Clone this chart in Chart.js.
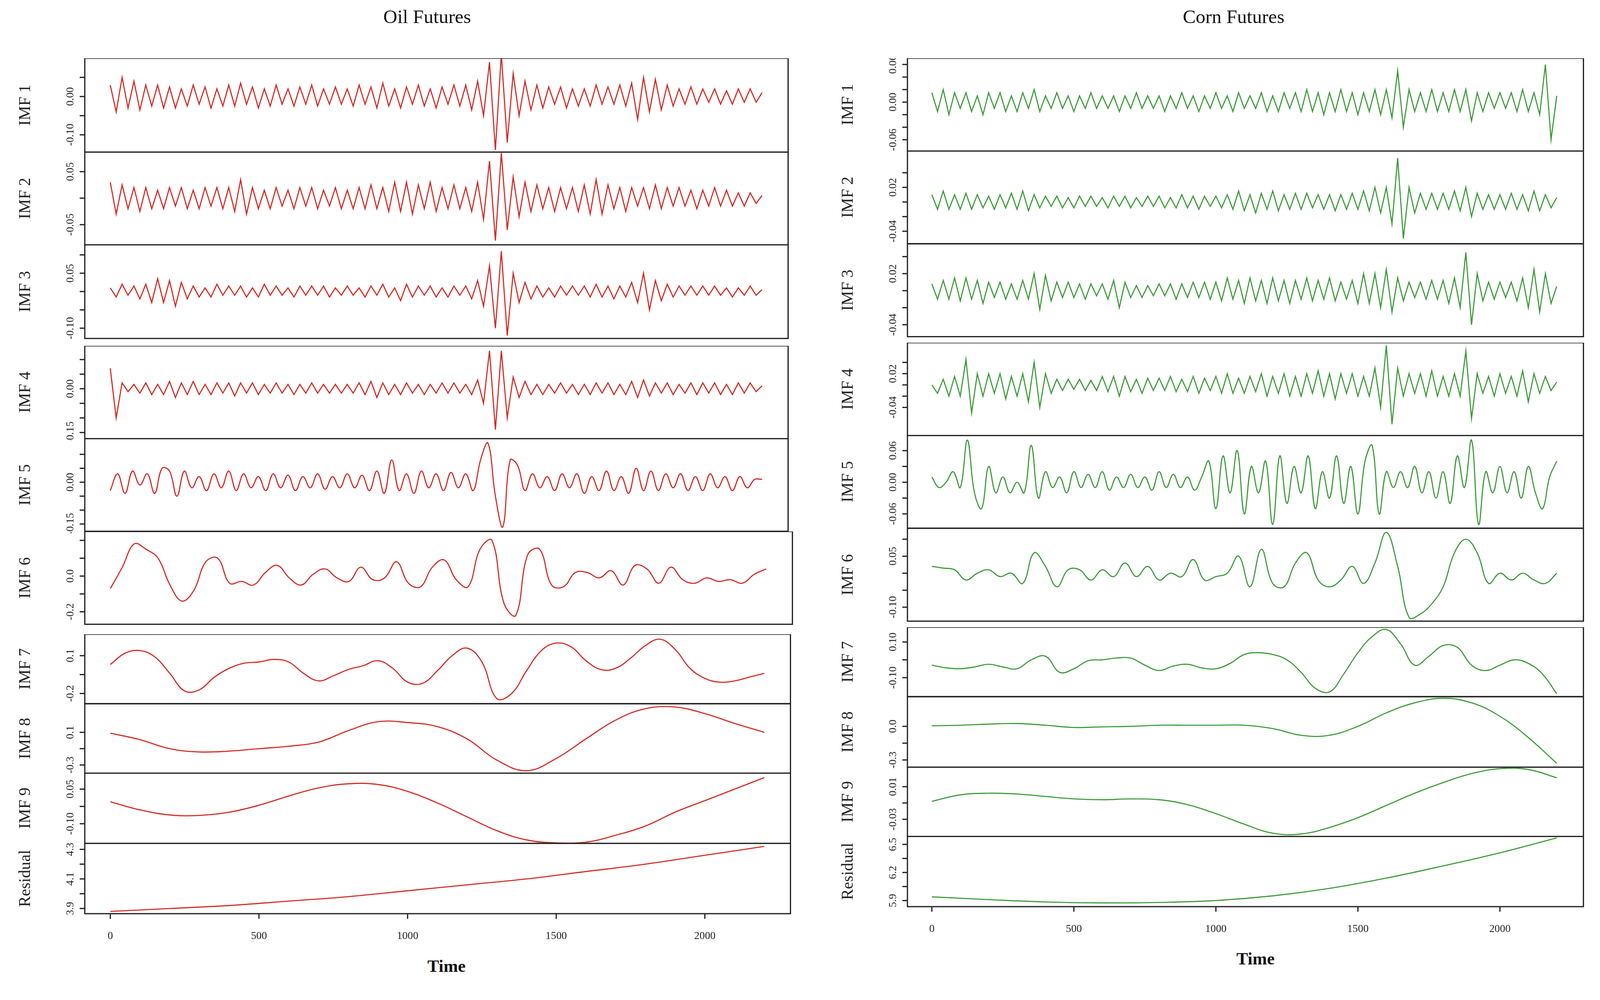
<!DOCTYPE html>
<html>
<head>
<meta charset="utf-8">
<script src="https://cdn.jsdelivr.net/npm/chart.js@4/dist/chart.umd.min.js"></script>
<style>
  body { margin: 0; background: #fff; }
  #page { position: relative; width: 4135px; height: 2559px; background: #fff; overflow: hidden; }
  #page canvas { position: absolute; }
  .txt { position: absolute; font-family: "Liberation Serif", serif; color: #111; white-space: nowrap; transform: translate(-50%, -50%); }
</style>
</head>
<body>
<div id="page"></div>
<script>
// ---- data ----
const oilImf1 = [0.03,-0.04,0.05,-0.03,0.04,-0.035,0.03,-0.025,0.03,-0.03,
  0.025,-0.03,0.02,-0.025,0.03,-0.02,0.025,-0.03,0.02,-0.025,
  0.03,-0.025,0.035,-0.02,0.025,-0.03,0.02,-0.025,0.03,-0.02,
  0.02,-0.025,0.025,-0.02,0.03,-0.025,0.02,-0.02,0.025,-0.02,
  0.02,-0.025,0.03,-0.02,0.025,-0.03,0.035,-0.025,0.02,-0.03,
  0.025,-0.02,0.03,-0.025,0.02,-0.03,0.025,-0.02,0.03,-0.025,
  0.03,-0.035,0.04,-0.05,0.09,-0.14,0.11,-0.12,0.06,-0.05,
  0.04,-0.035,0.03,-0.03,0.025,-0.02,0.025,-0.03,0.02,-0.025,
  0.02,-0.025,0.03,-0.02,0.025,-0.02,0.03,-0.025,0.035,-0.06,
  0.05,-0.04,0.045,-0.035,0.03,-0.025,0.02,-0.02,0.025,-0.02,
  0.02,-0.015,0.02,-0.02,0.015,-0.02,0.02,-0.015,0.02,-0.015,0.01];
const oilImf2 = [0.03,-0.03,0.025,-0.02,0.02,-0.025,0.02,-0.02,0.015,-0.02,
  0.02,-0.015,0.02,-0.02,0.015,-0.02,0.02,-0.015,0.02,-0.02,
  0.02,-0.025,0.035,-0.03,0.02,-0.02,0.015,-0.02,0.02,-0.015,
  0.015,-0.02,0.02,-0.015,0.02,-0.02,0.015,-0.015,0.02,-0.02,
  0.015,-0.02,0.02,-0.02,0.025,-0.02,0.02,-0.025,0.03,-0.025,
  0.03,-0.03,0.025,-0.02,0.03,-0.025,0.02,-0.02,0.025,-0.02,
  0.02,-0.025,0.03,-0.04,0.07,-0.08,0.085,-0.06,0.04,-0.035,
  0.03,-0.025,0.025,-0.02,0.02,-0.025,0.02,-0.02,0.02,-0.025,
  0.025,-0.03,0.035,-0.03,0.025,-0.02,0.02,-0.025,0.02,-0.015,
  0.02,-0.02,0.025,-0.02,0.02,-0.015,0.02,-0.015,0.015,-0.02,
  0.015,-0.015,0.02,-0.015,0.015,-0.015,0.01,-0.015,0.01,-0.01,0.005];
const oilImf3 = [0.01,-0.015,0.02,-0.01,0.015,-0.02,0.02,-0.03,0.035,-0.03,
  0.03,-0.04,0.025,-0.02,0.015,-0.015,0.01,-0.015,0.02,-0.01,
  0.015,-0.01,0.015,-0.015,0.01,-0.015,0.02,-0.01,0.015,-0.01,
  0.01,-0.015,0.015,-0.01,0.015,-0.01,0.015,-0.015,0.01,-0.01,
  0.015,-0.01,0.01,-0.015,0.015,-0.01,0.02,-0.015,0.01,-0.025,
  0.02,-0.015,0.015,-0.01,0.015,-0.015,0.01,-0.015,0.015,-0.01,
  0.015,-0.02,0.03,-0.04,0.07,-0.1,0.11,-0.12,0.05,-0.03,
  0.025,-0.02,0.015,-0.015,0.01,-0.015,0.015,-0.01,0.015,-0.01,
  0.015,-0.015,0.02,-0.015,0.015,-0.02,0.015,-0.015,0.025,-0.03,
  0.05,-0.05,0.03,-0.025,0.02,-0.015,0.015,-0.01,0.015,-0.01,
  0.015,-0.01,0.015,-0.01,0.01,-0.015,0.01,-0.01,0.015,-0.01,0.005];
const oilImf4 = [0.07,-0.1,0.02,-0.01,0.015,-0.015,0.02,-0.02,0.015,-0.02,
  0.025,-0.03,0.02,-0.02,0.025,-0.02,0.015,-0.02,0.02,-0.015,
  0.02,-0.025,0.02,-0.015,0.02,-0.02,0.015,-0.015,0.02,-0.015,
  0.015,-0.02,0.015,-0.015,0.02,-0.015,0.015,-0.015,0.015,-0.015,
  0.015,-0.015,0.02,-0.02,0.025,-0.03,0.02,-0.02,0.015,-0.02,
  0.02,-0.015,0.015,-0.02,0.015,-0.015,0.02,-0.015,0.02,-0.015,
  0.015,-0.02,0.03,-0.05,0.13,-0.14,0.13,-0.1,0.04,-0.03,
  0.025,-0.02,0.015,-0.02,0.015,-0.015,0.02,-0.015,0.015,-0.02,
  0.015,-0.02,0.02,-0.015,0.02,-0.02,0.015,-0.02,0.025,-0.03,
  0.03,-0.025,0.02,-0.015,0.02,-0.02,0.015,-0.015,0.02,-0.02,
  0.02,-0.015,0.02,-0.02,0.015,-0.02,0.02,-0.015,0.02,-0.01,0.01];
const oilImf5 = [-0.03,0.03,-0.04,0.04,-0.01,0.03,-0.04,0.05,0.04,-0.05,
  0.04,-0.02,0.02,-0.03,0.03,-0.02,0.04,-0.03,0.03,-0.02,
  0.02,-0.03,0.03,-0.02,0.025,-0.03,0.02,-0.02,0.03,-0.025,
  0.02,-0.02,0.03,-0.02,0.025,-0.03,0.04,-0.04,0.08,-0.03,
  0.03,-0.04,0.04,-0.02,0.03,-0.03,0.035,-0.02,0.03,-0.03,
  0.08,0.14,-0.05,-0.16,0.08,0.06,-0.03,0.03,-0.02,0.02,
  -0.03,0.03,-0.02,0.03,-0.04,0.02,-0.03,0.04,-0.03,0.02,
  -0.04,0.05,-0.03,0.04,-0.03,0.03,-0.02,0.03,-0.03,0.02,
  -0.03,0.03,-0.02,0.02,-0.03,0.02,-0.02,0.01,0.01];
const oilImf6 = [-0.07,0.05,0.18,0.15,0.1,-0.05,-0.14,-0.08,0.08,0.1,
  -0.04,-0.03,-0.05,0.02,0.06,-0.01,-0.05,0.01,0.04,-0.01,
  -0.03,0.05,-0.02,-0.01,0.08,-0.04,-0.06,0.05,0.09,-0.02,
  -0.06,0.15,0.2,-0.15,-0.22,0.12,0.15,-0.05,-0.06,0.02,
  0.02,-0.01,0.03,-0.05,0.06,0.04,-0.04,0.05,-0.02,-0.04,
  -0.01,-0.03,-0.02,-0.04,0.01,0.04];
const oilImf7 = [0.03,0.12,0.14,0.09,-0.04,-0.18,-0.17,-0.07,0.0,0.04,
  0.05,0.07,0.05,-0.04,-0.1,-0.06,-0.01,0.02,0.06,0.0,
  -0.11,-0.12,-0.02,0.1,0.16,0.05,-0.24,-0.2,-0.02,0.14,
  0.2,0.17,0.06,-0.01,0.0,0.08,0.18,0.23,0.15,0.0,
  -0.08,-0.11,-0.1,-0.07,-0.04];
const oilImf8 = [0.09,0.01,-0.1,-0.14,-0.13,-0.1,-0.07,-0.02,0.12,0.23,0.22,0.17,
  0.02,-0.24,-0.37,-0.22,0.02,0.25,0.39,0.41,0.33,0.21,0.1];
const oilImf9 = [-0.005,-0.04,-0.062,-0.064,-0.05,-0.02,0.02,0.055,0.073,0.07,0.04,-0.01,
  -0.07,-0.13,-0.17,-0.183,-0.18,-0.15,-0.11,-0.05,0.0,0.05,0.1];
const oilResidual = [3.88,3.90,3.92,3.95,3.98,4.02,4.06,4.10,4.15,4.20,4.26,4.32];

const cornImf1 = [0.015,-0.015,0.02,-0.02,0.015,-0.01,0.015,-0.015,0.01,-0.02,
  0.015,-0.01,0.015,-0.015,0.01,-0.015,0.015,-0.01,0.02,-0.015,
  0.01,-0.01,0.015,-0.01,0.01,-0.015,0.01,-0.01,0.015,-0.01,
  0.01,-0.01,0.01,-0.015,0.01,-0.01,0.015,-0.01,0.01,-0.01,
  0.01,-0.015,0.01,-0.01,0.015,-0.01,0.01,-0.015,0.01,-0.01,
  0.015,-0.01,0.01,-0.015,0.015,-0.01,0.01,-0.01,0.015,-0.015,
  0.01,-0.015,0.015,-0.01,0.015,-0.015,0.02,-0.015,0.015,-0.02,
  0.015,-0.015,0.02,-0.015,0.015,-0.02,0.015,-0.015,0.02,-0.02,
  0.02,-0.025,0.05,-0.04,0.02,-0.015,0.015,-0.015,0.02,-0.015,
  0.015,-0.015,0.02,-0.015,0.02,-0.03,0.015,-0.015,0.015,-0.01,
  0.015,-0.01,0.015,-0.015,0.02,-0.015,0.015,-0.02,0.06,-0.06,0.01];
const cornImf2 = [0.01,-0.01,0.015,-0.01,0.01,-0.01,0.012,-0.01,0.01,-0.008,
  0.008,-0.01,0.01,-0.008,0.012,-0.01,0.015,-0.012,0.01,-0.008,
  0.008,-0.006,0.008,-0.008,0.006,-0.008,0.008,-0.006,0.008,-0.006,
  0.006,-0.008,0.008,-0.006,0.008,-0.008,0.006,-0.006,0.008,-0.006,
  0.008,-0.008,0.006,-0.008,0.01,-0.008,0.008,-0.01,0.008,-0.006,
  0.008,-0.008,0.01,-0.01,0.015,-0.012,0.01,-0.015,0.012,-0.01,
  0.015,-0.012,0.01,-0.01,0.012,-0.01,0.012,-0.008,0.01,-0.01,
  0.01,-0.012,0.01,-0.01,0.012,-0.01,0.015,-0.012,0.02,-0.015,
  0.02,-0.03,0.06,-0.05,0.02,-0.015,0.012,-0.01,0.012,-0.01,
  0.012,-0.01,0.015,-0.012,0.02,-0.02,0.012,-0.01,0.01,-0.01,
  0.01,-0.01,0.012,-0.01,0.01,-0.012,0.015,-0.012,0.01,-0.008,0.006];
const cornImf3 = [0.008,-0.01,0.012,-0.01,0.015,-0.012,0.015,-0.01,0.012,-0.015,
  0.01,-0.008,0.01,-0.01,0.008,-0.01,0.012,-0.01,0.02,-0.022,
  0.018,-0.012,0.01,-0.008,0.01,-0.008,0.008,-0.01,0.008,-0.006,
  0.008,-0.01,0.012,-0.02,0.01,-0.008,0.006,-0.008,0.006,-0.006,
  0.008,-0.006,0.008,-0.01,0.008,-0.008,0.01,-0.008,0.01,-0.01,
  0.01,-0.012,0.015,-0.01,0.012,-0.015,0.015,-0.012,0.012,-0.015,
  0.015,-0.012,0.012,-0.015,0.012,-0.01,0.015,-0.012,0.012,-0.01,
  0.015,-0.012,0.01,-0.01,0.012,-0.015,0.02,-0.015,0.02,-0.02,
  0.025,-0.025,0.015,-0.012,0.01,-0.008,0.01,-0.01,0.012,-0.01,
  0.012,-0.015,0.015,-0.02,0.045,-0.04,0.02,-0.012,0.01,-0.01,
  0.01,-0.008,0.01,-0.012,0.015,-0.02,0.025,-0.025,0.02,-0.015,0.005];
const cornImf4 = [0.0,-0.015,0.01,-0.02,0.015,-0.02,0.045,-0.05,0.02,-0.02,
  0.02,-0.015,0.02,-0.025,0.015,-0.02,0.02,-0.03,0.04,-0.04,
  0.02,-0.015,0.01,-0.01,0.01,-0.008,0.01,-0.01,0.008,-0.01,
  0.015,-0.012,0.015,-0.02,0.015,-0.012,0.01,-0.015,0.012,-0.01,
  0.012,-0.01,0.015,-0.012,0.01,-0.012,0.015,-0.015,0.012,-0.01,
  0.015,-0.015,0.02,-0.015,0.012,-0.015,0.015,-0.012,0.02,-0.02,
  0.015,-0.015,0.02,-0.02,0.015,-0.02,0.02,-0.015,0.025,-0.02,
  0.02,-0.025,0.02,-0.015,0.02,-0.02,0.015,-0.02,0.03,-0.04,
  0.07,-0.07,0.03,-0.02,0.02,-0.015,0.02,-0.02,0.025,-0.02,
  0.015,-0.02,0.02,-0.02,0.06,-0.06,0.02,-0.015,0.015,-0.02,
  0.02,-0.015,0.015,-0.02,0.025,-0.03,0.02,-0.015,0.015,-0.01,0.005];
const cornImf5 = [0.01,-0.01,0.0,0.02,-0.01,0.08,-0.02,-0.05,0.03,-0.02,
  0.01,-0.02,0.0,-0.02,0.07,-0.03,0.02,-0.01,0.01,-0.02,
  0.02,-0.01,0.015,-0.01,0.02,-0.015,0.01,-0.01,0.015,-0.01,
  0.01,-0.015,0.02,-0.01,0.015,-0.01,0.01,-0.015,0.01,0.04,
  -0.05,0.05,-0.02,0.06,-0.06,0.03,-0.02,0.04,-0.08,0.05,
  -0.04,0.03,-0.02,0.05,-0.05,0.02,-0.03,0.05,-0.04,0.03,
  -0.06,0.04,0.07,-0.06,0.02,-0.01,0.02,-0.01,0.03,-0.02,
  0.02,-0.03,0.02,-0.04,0.05,-0.01,0.08,-0.08,0.02,-0.02,
  0.03,-0.02,0.02,-0.03,0.03,-0.02,-0.05,0.01,0.04];
const cornImf6 = [0.02,0.015,0.01,-0.02,0.0,0.01,-0.01,0.0,-0.03,0.06,
  0.02,-0.04,0.01,0.01,-0.02,0.01,-0.01,0.03,-0.01,0.02,
  -0.02,0.0,-0.01,0.04,-0.02,-0.01,0.0,0.05,-0.04,0.07,
  -0.03,-0.04,0.03,0.06,-0.02,-0.04,-0.02,0.02,-0.03,0.03,
  0.12,0.02,-0.13,-0.12,-0.09,-0.04,0.06,0.1,0.06,-0.03,
  0.0,-0.02,0.0,-0.02,-0.03,0.0];
const cornImf7 = [-0.03,-0.045,-0.05,-0.04,-0.025,-0.04,-0.05,0.0,0.02,-0.07,
  -0.05,-0.005,0.0,0.01,0.01,-0.03,-0.06,-0.035,-0.025,-0.045,
  -0.05,-0.02,0.03,0.04,0.03,0.0,-0.07,-0.16,-0.18,-0.08,
  0.04,0.13,0.17,0.09,-0.03,0.02,0.08,0.07,-0.03,-0.06,
  -0.03,0.0,-0.02,-0.08,-0.19];
const cornImf8 = [0.005,0.01,0.02,0.025,0.01,-0.01,-0.005,0.0,0.01,0.01,0.01,0.01,
  -0.02,-0.08,-0.08,0.0,0.12,0.21,0.25,0.21,0.09,-0.1,-0.33];
const cornImf9 = [-0.008,0.0,0.002,0.001,-0.002,-0.005,-0.006,-0.005,-0.006,-0.012,-0.023,-0.036,
  -0.047,-0.048,-0.04,-0.028,-0.013,0.002,0.015,0.026,0.032,0.031,0.021];
const cornResidual = [5.94,5.91,5.885,5.875,5.88,5.90,5.95,6.03,6.14,6.27,6.41,6.57];

const timeTicks = [0, 500, 1000, 1500, 2000];

// ---- layout (reference units, scaled to the window) ----
const S = 2.61;
const RED = '#d42a24', GREEN = '#3d9b3a';

const sides = [
  { title: 'Oil Futures', titleX: 419, left: 83, right: 773, xMin: -86, xMax: 2288, color: RED, timeY: 947,
    panels: [
      { name: 'IMF 1', data: oilImf1, step: 20, top: 57, bottom: 149, min: -0.145, max: 0.10, ticks: [-0.10, -0.05, 0, 0.05], labels: ['-0.10', '0.00'] },
      { name: 'IMF 2', data: oilImf2, step: 20, top: 149, bottom: 240, min: -0.088, max: 0.087, ticks: [-0.05, 0, 0.05], labels: ['-0.05', '0.05'] },
      { name: 'IMF 3', data: oilImf3, step: 20, top: 240, bottom: 332, min: -0.128, max: 0.128, ticks: [-0.10, -0.05, 0, 0.05, 0.10], labels: ['-0.10', '0.05'] },
      { name: 'IMF 4', data: oilImf4, step: 20, top: 339, bottom: 430, min: -0.171, max: 0.147, ticks: [-0.15, -0.10, -0.05, 0, 0.05, 0.10], labels: ['-0.15', '0.00'] },
      { name: 'IMF 5', data: oilImf5, step: 25, top: 430, bottom: 521, min: -0.176, max: 0.157, tension: 0.4, ticks: [-0.15, -0.10, -0.05, 0, 0.05, 0.10], labels: ['-0.15', '0.00'] },
      { name: 'IMF 6', data: oilImf6, step: 40, top: 521, bottom: 612, boxRight: 777, min: -0.27, max: 0.25, tension: 0.4, ticks: [-0.2, -0.1, 0, 0.1, 0.2], labels: ['-0.2', '0.0'] },
      { name: 'IMF 7', data: oilImf7, step: 50, top: 622, bottom: 690, boxRight: 775, min: -0.28, max: 0.27, tension: 0.4, ticks: [-0.2, -0.05, 0.1], labels: ['-0.2', '0.1'] },
      { name: 'IMF 8', data: oilImf8, step: 100, top: 690, bottom: 758, boxRight: 775, min: -0.40, max: 0.45, tension: 0.4, ticks: [-0.3, -0.1, 0.1], labels: ['-0.3', '0.1'] },
      { name: 'IMF 9', data: oilImf9, step: 100, top: 758, bottom: 827, boxRight: 775, min: -0.185, max: 0.12, tension: 0.4, ticks: [-0.10, -0.025, 0.05], labels: ['-0.10', '0.05'] },
      { name: 'Residual', data: oilResidual, step: 200, top: 827, bottom: 896, boxRight: 775, min: 3.865, max: 4.341, tension: 0.4, ticks: [3.9, 4.0, 4.1, 4.2, 4.3], labels: ['3.9', '4.1', '4.3'] }
    ] },
  { title: 'Corn Futures', titleX: 1210, left: 890, right: 1553, xMin: -86, xMax: 2294, color: GREEN, timeY: 940,
    panels: [
      { name: 'IMF 1', data: cornImf1, step: 20, top: 57, bottom: 148, min: -0.078, max: 0.07, ticks: [-0.06, -0.04, -0.02, 0, 0.02, 0.04, 0.06], labels: ['-0.06', '0.00', '0.06'] },
      { name: 'IMF 2', data: cornImf2, step: 20, top: 148, bottom: 239, min: -0.057, max: 0.07, ticks: [-0.04, -0.02, 0, 0.02, 0.04], labels: ['-0.04', '0.02'] },
      { name: 'IMF 3', data: cornImf3, step: 20, top: 239, bottom: 330, min: -0.054, max: 0.055, ticks: [-0.04, -0.02, 0, 0.02, 0.04], labels: ['-0.04', '0.02'] },
      { name: 'IMF 4', data: cornImf4, step: 20, top: 336, bottom: 427, min: -0.09, max: 0.075, ticks: [-0.04, -0.02, 0, 0.02, 0.04], labels: ['-0.04', '0.02'] },
      { name: 'IMF 5', data: cornImf5, step: 25, top: 427, bottom: 518, min: -0.087, max: 0.089, tension: 0.4, ticks: [-0.06, -0.03, 0, 0.03, 0.06], labels: ['-0.06', '0.00', '0.06'] },
      { name: 'IMF 6', data: cornImf6, step: 40, top: 518, bottom: 609, min: -0.141, max: 0.132, tension: 0.4, ticks: [-0.10, -0.05, 0, 0.05, 0.10], labels: ['-0.10', '0.05'] },
      { name: 'IMF 7', data: cornImf7, step: 50, top: 615, bottom: 683, min: -0.206, max: 0.183, tension: 0.4, ticks: [-0.10, 0, 0.10], labels: ['-0.10', '0.10'] },
      { name: 'IMF 8', data: cornImf8, step: 100, top: 683, bottom: 752, min: -0.364, max: 0.264, tension: 0.4, ticks: [-0.3, -0.15, 0.0], labels: ['-0.3', '0.0'] },
      { name: 'IMF 9', data: cornImf9, step: 100, top: 752, bottom: 820, min: -0.051, max: 0.034, tension: 0.4, ticks: [-0.03, -0.01, 0.01], labels: ['-0.03', '0.01'] },
      { name: 'Residual', data: cornResidual, step: 200, top: 820, bottom: 889, min: 5.835, max: 6.587, tension: 0.4, ticks: [5.9, 6.05, 6.2, 6.35, 6.5], labels: ['5.9', '6.2', '6.5'] }
    ] }
];

const page = document.getElementById('page');
const MARGIN = 82, AXISPAD = 55;

function addText(str, x, y, size, extra) {
  const d = document.createElement('div');
  d.className = 'txt';
  d.textContent = str;
  d.style.left = (x * S) + 'px';
  d.style.top = (y * S) + 'px';
  d.style.fontSize = (size * S) + 'px';
  if (extra) Object.assign(d.style, extra);
  page.appendChild(d);
}

const axesPlugin = {
  id: 'axesPlugin',
  afterDraw(chart, args, opts) {
    const ctx = chart.ctx, a = chart.chartArea, p = opts.panel;
    const ys = chart.scales.y, xs = chart.scales.x;
    ctx.save();
    ctx.strokeStyle = '#222';
    ctx.lineWidth = 1.2 * S;
    ctx.strokeRect(a.left, a.top, a.right - a.left, a.bottom - a.top);
    ctx.fillStyle = '#222';
    ctx.font = (10.5 * S) + 'px "Liberation Serif", serif';
    ctx.textAlign = 'center';
    ctx.textBaseline = 'middle';
    p.ticks.forEach(t => {
      const y = ys.getPixelForValue(t);
      ctx.beginPath();
      ctx.moveTo(a.left, y);
      ctx.lineTo(a.left - 5 * S, y);
      ctx.stroke();
    });
    p.labels.forEach(l => {
      const y = ys.getPixelForValue(parseFloat(l));
      ctx.save();
      ctx.translate(a.left - 14 * S, y);
      ctx.rotate(-Math.PI / 2);
      ctx.fillText(l, 0, 0);
      ctx.restore();
    });
    ctx.save();
    ctx.font = (16 * S) + 'px "Liberation Serif", serif';
    ctx.translate(a.left - 58 * S, (a.top + a.bottom) / 2);
    ctx.rotate(-Math.PI / 2);
    ctx.fillText(p.name, 0, 0);
    ctx.restore();
    if (opts.last) {
      ctx.font = (10.5 * S) + 'px "Liberation Serif", serif';
      timeTicks.forEach(t => {
        const x = xs.getPixelForValue(t);
        ctx.beginPath();
        ctx.moveTo(x, a.bottom);
        ctx.lineTo(x, a.bottom + 5 * S);
        ctx.stroke();
        ctx.fillText(String(t), x, a.bottom + 22 * S);
      });
    }
    ctx.restore();
  }
};

sides.forEach(side => {
  addText(side.title, side.titleX, 16, 19);
  addText('Time', (side.left + side.right) / 2 + 10, side.timeY, 17, { fontWeight: 'bold' });
  side.panels.forEach((p, i) => {
    const last = i === side.panels.length - 1;
    const right = p.boxRight || side.right;
    const w = Math.round((right - side.left + MARGIN + 4) * S);
    const hBox = (p.bottom - p.top) * S;
    const h = Math.round(hBox + (last ? AXISPAD * S : 2 * S));
    const cv = document.createElement('canvas');
    cv.width = w; cv.height = h;
    cv.style.left = Math.round((side.left - MARGIN) * S) + 'px';
    cv.style.top = Math.round(p.top * S) + 'px';
    page.appendChild(cv);
    const points = p.data.map((v, k) => ({ x: k * p.step, y: v }));
    new Chart(cv.getContext('2d'), {
      type: 'line',
      data: { datasets: [{ data: points, borderColor: side.color, borderWidth: 1.1 * S, pointRadius: 0, tension: p.tension || 0, fill: false }] },
      options: {
        responsive: false, animation: false, devicePixelRatio: 1,
        layout: { padding: { left: MARGIN * S, right: 4 * S, top: 0, bottom: h - hBox } },
        scales: {
          x: { type: 'linear', min: side.xMin, max: side.xMax, display: false },
          y: { min: p.min, max: p.max, display: false }
        },
        plugins: { legend: { display: false }, tooltip: { enabled: false }, axesPlugin: { panel: p, last: last } }
      },
      plugins: [axesPlugin]
    });
  });
});
</script>
</body>
</html>
